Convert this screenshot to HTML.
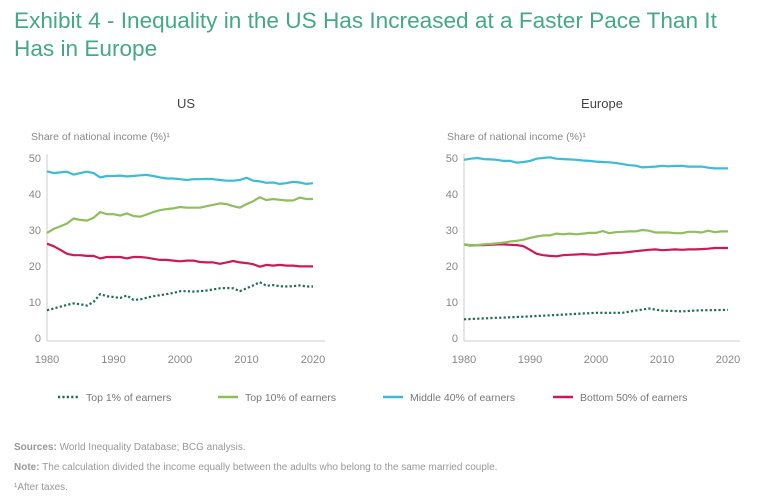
<!DOCTYPE html>
<html><head><meta charset="utf-8"><style>
body{margin:0;background:#fff;width:768px;height:503px;overflow:hidden;font-family:"Liberation Sans",sans-serif}
svg{position:absolute;left:0;top:0}
</style></head><body>
<svg id="s" width="768" height="503" xmlns="http://www.w3.org/2000/svg" font-family="Liberation Sans, sans-serif">
<text x="14" y="28" font-size="22.6" fill="#45a985">Exhibit 4 - Inequality in the US Has Increased at a Faster Pace Than It</text>
<text x="14" y="56" font-size="22.6" fill="#45a985">Has in Europe</text>
<text x="186" y="108" font-size="13" fill="#444" text-anchor="middle">US</text>
<text x="602" y="108" font-size="13" fill="#444" text-anchor="middle">Europe</text>
<text x="31" y="140" font-size="10.5" fill="#888">Share of national income (%)¹</text>
<text x="447" y="140" font-size="10.5" fill="#888">Share of national income (%)¹</text>
<g id="g"></g>
<g font-size="10.5" fill="#777">
<line x1="58" y1="397" x2="78" y2="397" stroke="#1f6e4e" stroke-width="2.5" stroke-dasharray="2.2,2.2"/>
<text x="86" y="401">Top 1% of earners</text>
<line x1="218" y1="397" x2="238" y2="397" stroke="#8dc05a" stroke-width="2.5"/>
<text x="245" y="401">Top 10% of earners</text>
<line x1="383" y1="397" x2="403" y2="397" stroke="#3bbcd8" stroke-width="2.5"/>
<text x="410" y="401">Middle 40% of earners</text>
<line x1="553" y1="397" x2="573" y2="397" stroke="#d0175a" stroke-width="2.5"/>
<text x="580" y="401">Bottom 50% of earners</text>
</g>
<g font-size="10" fill="#999">
<text x="14" y="450"><tspan font-weight="bold">Sources:</tspan> World Inequality Database; BCG analysis.</text>
<text x="14" y="470"><tspan font-weight="bold">Note:</tspan> The calculation divided the income equally between the adults who belong to the same married couple.</text>
<text x="14" y="490">¹After taxes.</text>
</g>
</svg>
<script>
function interp(k){var out=[];for(var i=0;i<k.length-1;i++){var a=k[i],b=k[i+1];for(var y=a[0];y<b[0];y++)out.push(a[1]+(b[1]-a[1])*(y-a[0])/(b[0]-a[0]));}out.push(k[k.length-1][1]);return out;}
var US={
m:[46.3,45.8,46,46.2,45.4,45.8,46.2,45.8,44.6,45,45,45.1,44.9,45,45.2,45.3,45,44.6,44.3,44.3,44.1,43.9,44.1,44.1,44.2,44.1,43.9,43.7,43.7,43.9,44.5,43.7,43.5,43.1,43.2,42.8,43.0,43.4,43.2,42.8,43.0],
t:[29.2,30.3,31,31.8,33.2,32.8,32.6,33.4,35,34.4,34.4,34.0,34.6,33.9,33.7,34.3,35.0,35.5,35.8,36,36.4,36.2,36.2,36.2,36.6,37.0,37.4,37.2,36.6,36.2,37.2,38.0,39.1,38.3,38.6,38.4,38.2,38.2,39.0,38.6,38.6],
b:[26.2,25.5,24.5,23.4,23,23,22.8,22.8,22.1,22.5,22.5,22.5,22.1,22.5,22.5,22.3,22,21.7,21.7,21.5,21.3,21.5,21.5,21.1,21,21,20.6,21,21.4,21.0,20.8,20.5,19.8,20.3,20.1,20.3,20.1,20.1,19.9,19.9,19.9],
p:[7.7,8.2,8.7,9.2,9.6,9.4,9.0,10.0,12.2,11.6,11.4,11.1,11.8,10.6,10.7,11.2,11.6,11.9,12.2,12.5,13,13,12.9,13,13.2,13.5,13.8,13.9,13.8,13.0,13.8,14.6,15.5,14.5,14.7,14.4,14.3,14.4,14.6,14.3,14.3]};
var EU={
m:[49.5,49.8,50,49.7,49.6,49.5,49.2,49.2,48.7,48.9,49.2,49.8,50,50.2,49.8,49.7,49.6,49.5,49.3,49.2,49,48.9,48.8,48.6,48.3,48,47.9,47.4,47.5,47.6,47.8,47.7,47.8,47.8,47.6,47.6,47.6,47.3,47.1,47.1,47.1],
t:[26,25.8,25.8,26,26.1,26.3,26.5,26.8,27,27.3,27.8,28.2,28.5,28.5,29,28.8,29,28.8,29,29.2,29.2,29.7,29.1,29.4,29.5,29.6,29.6,30,29.8,29.3,29.3,29.3,29.1,29.1,29.5,29.5,29.3,29.8,29.4,29.6,29.6],
b:[26,25.7,25.8,25.8,25.9,26,26,25.9,25.8,25.5,24.5,23.4,23,22.8,22.7,23,23.1,23.2,23.3,23.2,23.1,23.3,23.5,23.6,23.7,23.9,24.1,24.3,24.5,24.6,24.4,24.5,24.6,24.5,24.6,24.6,24.7,24.8,25,25,25],
p:interp([[1980,5.2],[1990,6.0],[2000,7.0],[2004,7.0],[2008,8.2],[2010,7.6],[2013,7.4],[2016,7.7],[2020,7.8]])};
var h='',cols={m:'#3bbcd8',t:'#8dc05a',b:'#d0175a',p:'#1f6e4e'};
function chart(D,x0,x1,top,bot){
 var yf=function(v){return bot-v*(bot-top)/50};
 h+='<line x1="'+x0+'" y1="'+(top-4)+'" x2="'+x0+'" y2="'+(bot+3)+'" stroke="#ccc" stroke-width="1"/>';
 h+='<line x1="'+x0+'" y1="'+(bot+3)+'" x2="'+(x1+12)+'" y2="'+(bot+3)+'" stroke="#ccc" stroke-width="1"/>';
 for(var v=0;v<=50;v+=10)h+='<text x="'+(x0-6)+'" y="'+(yf(v)+4)+'" font-size="11" fill="#888" text-anchor="end">'+v+'</text>';
 for(var y=1980;y<=2020;y+=10)h+='<text x="'+(x0+(x1-x0)*(y-1980)/40)+'" y="'+(bot+25)+'" font-size="11" fill="#888" text-anchor="middle">'+y+'</text>';
 ['p','b','t','m'].forEach(function(k){var a=D[k],pts=[];for(var i=0;i<a.length&&i<41;i++)pts.push((x0+(x1-x0)*i/40).toFixed(1)+','+yf(a[i]).toFixed(1));
 h+='<polyline fill="none" stroke="'+cols[k]+'" stroke-width="2.2" stroke-linejoin="round" '+(k=='p'?'stroke-dasharray="2.2,2.2" stroke-width="2.6"':'')+' points="'+pts.join(' ')+'"/>';});
}
chart(US,47,313,158,338);
chart(EU,464,728,158,338);
document.getElementById('g').innerHTML=h;
</script>
</body></html>
